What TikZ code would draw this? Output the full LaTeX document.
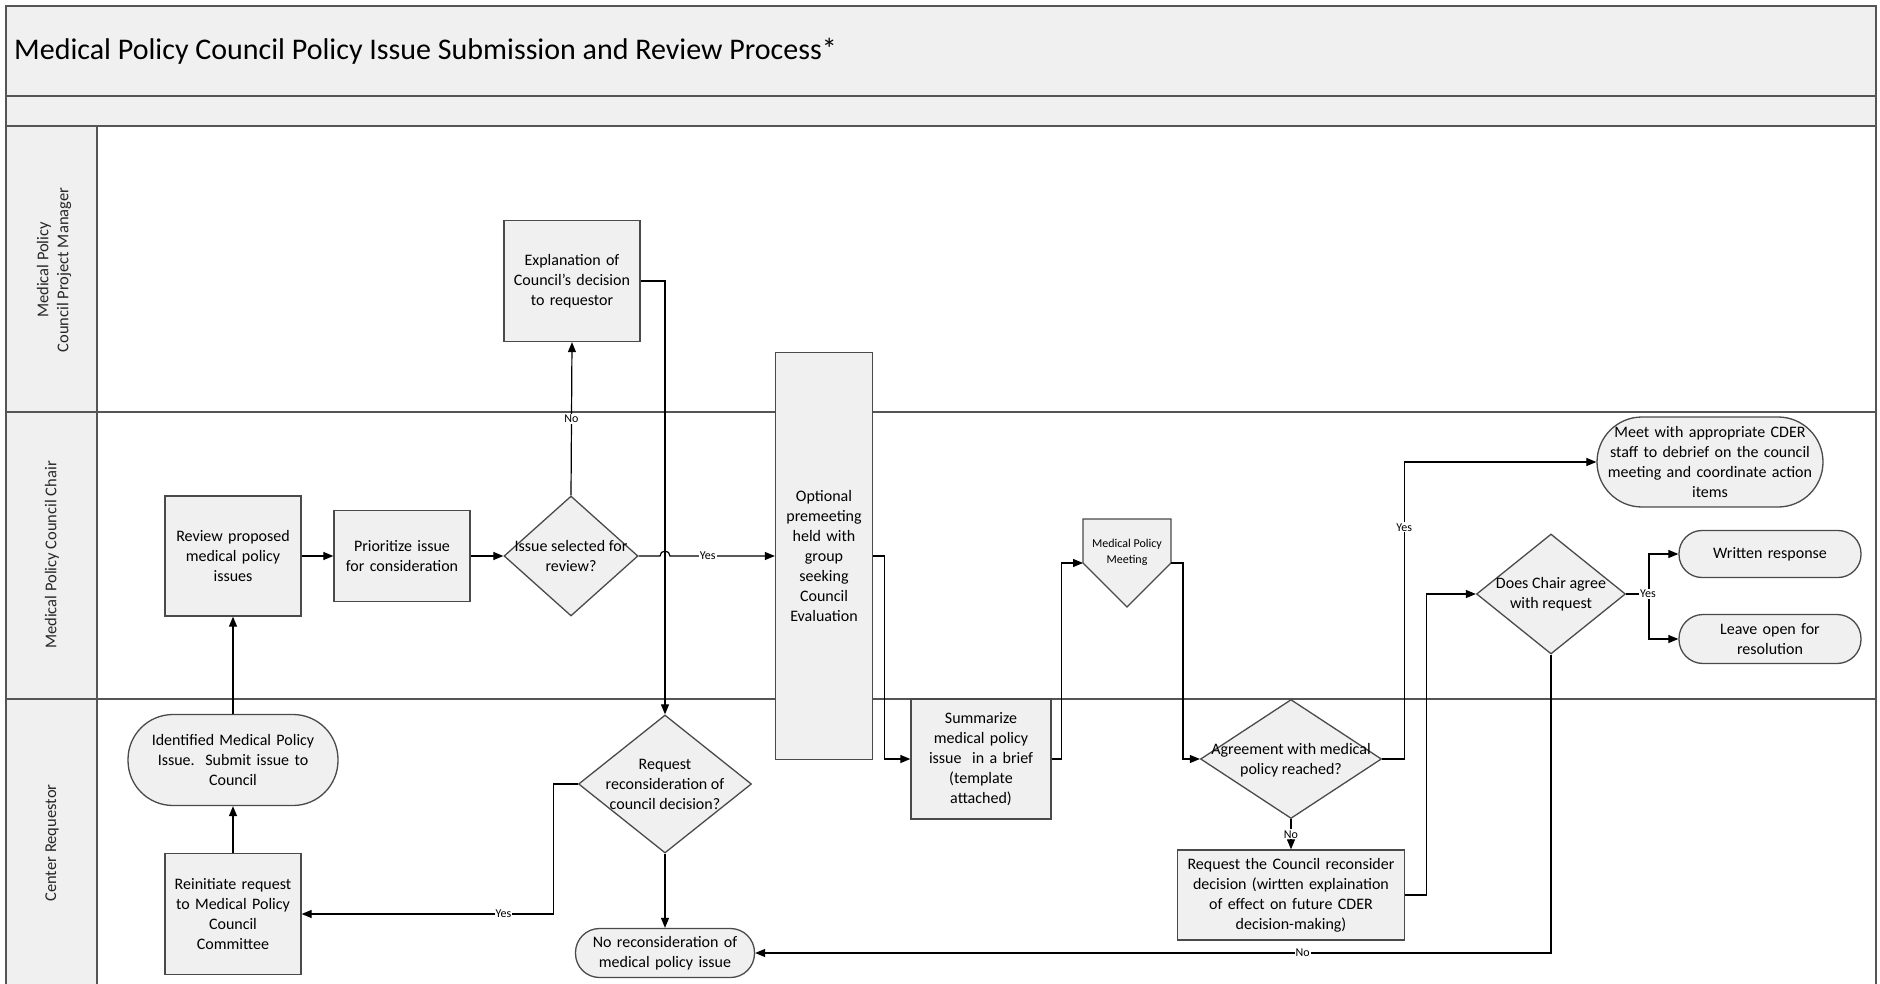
\documentclass[tikz,border=0pt]{standalone}
\usepackage{fontspec}
\setmainfont{Carlito}
\usetikzlibrary{arrows.meta,shapes.geometric}
\definecolor{boxfill}{HTML}{F0F0F0}
\definecolor{edgegray}{HTML}{4A4A4A}
\definecolor{framegray}{HTML}{555555}
\newcommand\bxfont{\fontsize{16}{20}\selectfont}
\newcommand\lbfont{\fontsize{12}{13}\selectfont}
\newcommand\smfont{\fontsize{12}{16}\selectfont}
\newcommand\lanefont{\fontsize{16.5}{20}\selectfont}
\newcommand\ttlfont{\fontsize{30}{34}\selectfont}
\begin{document}
\begin{tikzpicture}[x=1pt,y=-1pt,
  box/.style={draw=edgegray, line width=1.3pt, fill=boxfill, rectangle, inner sep=0pt, align=center, font=\bxfont},
  dia/.style={draw=edgegray, line width=1.3pt, fill=boxfill, diamond, inner sep=0pt},
  dtext/.style={align=center, font=\bxfont, inner sep=0pt},
  conn/.style={draw=black, line width=1.2pt, -{Triangle[length=10pt,width=8pt]}},
  plainline/.style={draw=black, line width=1.2pt},
  lbl/.style={fill=white, inner sep=1pt, font=\lbfont},
  lane/.style={draw=framegray, line width=1.8pt},
  lanetext/.style={rotate=90, align=center, font=\lanefont, text=black!85}
]
\useasboundingbox (0,0) rectangle (1880,984);
% bands and frame
\fill[white] (0,0) rectangle (1880,984);
\path[fill=boxfill] (6,6) rectangle (1876,126);
\path[fill=boxfill] (6,126) rectangle (97,984);
\draw[lane] (6,984) -- (6,6) -- (1876,6) -- (1876,984);
\draw[lane] (6,96) -- (1876,96);
\draw[lane] (6,126) -- (1876,126);
\draw[lane] (6,412) -- (1876,412);
\draw[lane] (6,699) -- (1876,699);
\draw[lane] (97,126) -- (97,984);
\node[anchor=west, font=\ttlfont, inner sep=0pt] (title) at (14,51) {Medical Policy Council Policy Issue Submission and Review Process*};
\node[lanetext] (lane1) at (54,270) {Medical Policy\\Council Project Manager};
\node[lanetext] (lane2) at (52,555) {Medical Policy Council Chair};
\node[lanetext] (lane3) at (52,843) {Center Requestor};

% nodes
\node[box, minimum width=136pt, minimum height=120pt, text width=130pt] (review) at (233,556) {Review proposed\\medical policy\\issues};
\node[box, minimum width=136pt, minimum height=91pt, text width=130pt] (prio) at (402,556) {Prioritize issue\\for consideration};
\node[dia, minimum width=134pt, minimum height=120pt] (issue) at (571,556) {};
\node[dtext] (issuet) at (571,556) {Issue selected for\\review?};
\node[box, minimum width=136pt, minimum height=121pt, text width=130pt] (expl) at (572,281) {Explanation of\\Council’s decision\\to requestor};
\node[box, minimum width=97pt, minimum height=407pt, text width=92pt] (opt) at (824,556) {Optional\\premeeting\\held with\\group\\seeking\\Council\\Evaluation};
\node[box, minimum width=140pt, minimum height=120pt, text width=134pt] (summ) at (981,759) {Summarize\\medical policy\\issue\ \ in a brief\\(template\\attached)};
\path[draw=edgegray, line width=1.3pt, fill=boxfill] (1083,519) -- (1171,519) -- (1171,563) -- (1127,607) -- (1083,563) -- cycle;
\node[font=\smfont, align=center, inner sep=0pt] (mpm) at (1127,552) {Medical Policy\\Meeting};
\coordinate (mpmW) at (1083,563);
\coordinate (mpmE) at (1171,563);
\node[dia, minimum width=181pt, minimum height=119pt] (agr) at (1291,759) {};
\node[dtext] (agrt) at (1291,760) {Agreement with medical\\policy reached?};
\node[box, minimum width=227pt, minimum height=90pt, text width=222pt] (reqc) at (1291,895) {Request the Council reconsider\\decision (wirtten explaination\\of effect on future CDER\\decision-making)};
\node[box, rounded corners=45pt, minimum width=226pt, minimum height=90pt, text width=222pt] (meet) at (1710,462) {Meet with appropriate CDER\\staff to debrief on the council\\meeting and coordinate action\\items};
\node[dia, minimum width=149pt, minimum height=120pt] (chair) at (1551,594) {};
\node[dtext] (chairt) at (1551,594) {Does Chair agree\\with request};
\node[box, rounded corners=23pt, minimum width=182pt, minimum height=47pt, text width=170pt] (written) at (1770,554) {Written response};
\node[box, rounded corners=24pt, minimum width=182pt, minimum height=49pt, text width=170pt] (leave) at (1770,639) {Leave open for\\resolution};
\node[dia, minimum width=173pt, minimum height=138pt] (reqd) at (665,784) {};
\node[dtext] (reqdt) at (665,784) {Request\\reconsideration of\\council decision?};
\node[box, rounded corners=24pt, minimum width=179pt, minimum height=49pt, text width=175pt] (norecon) at (665,953) {No reconsideration of\\medical policy issue};
\node[box, rounded corners=45pt, minimum width=210pt, minimum height=91pt, text width=204pt] (ident) at (233,760) {Identified Medical Policy\\Issue.\ \ Submit issue to\\Council};
\node[box, minimum width=136pt, minimum height=121pt, text width=130pt] (reinit) at (233,914) {Reinitiate request\\to Medical Policy\\Council\\Committee};

% connectors
\draw[conn] (review.east) -- (prio.west);
\draw[conn] (prio.east) -- (issue.west);
\draw[conn] (issue.north) -- node[lbl, pos=0.5] (lno1) {No} (expl.south);
\draw[conn] (issue.east) -- (660,556) arc[start angle=180, end angle=360, radius=5] -- node[lbl, pos=0.36] (lyes1) {Yes} (opt.west);
\draw[conn] (expl.east) -| (reqd.north);
\draw[conn] (opt.east) -- ++(11,0) |- (summ.west);
\draw[conn] (summ.east) -- ++(10,0) |- (mpmW);
\draw[conn] (mpmE) -- ++(12,0) |- (agr.west);
\draw[conn] (agr.east) -- ++(22,0) |- node[lbl, pos=0.39] (lyes2) {Yes} (meet.west);
\draw[conn] (agr.south) -- node[lbl, pos=0.5] (lno2) {No} (reqc.north);
\draw[conn] (reqc.east) -- ++(21,0) |- (chair.west);
\coordinate (split) at (1649,594);
\draw[plainline] (chair.east) -- (split);
\draw[conn] (split) |- (written.west);
\draw[conn] (split) |- (leave.west);
\node[lbl] (lyes3) at (1648,594) {Yes};
\draw[conn] (chair.south) |- node[lbl, pos=0.656] (lno3) {No} (norecon.east);
\draw[conn] (reqd.south) -- (norecon.north);
\draw[conn] (reqd.west) -- ++(-24,0) |- node[lbl, pos=0.6] (lyes4) {Yes} (reinit.east);
\draw[conn] (reinit.north) -- (ident.south);
\draw[conn] (ident.north) -- (review.south);
\end{tikzpicture}
\end{document}
